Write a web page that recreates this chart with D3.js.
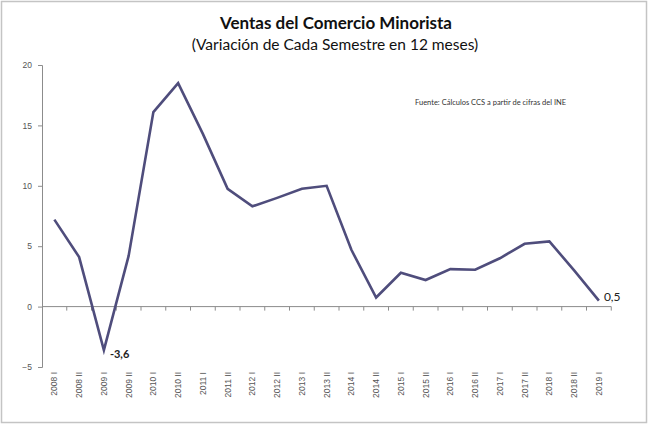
<!DOCTYPE html>
<html>
<head>
<meta charset="utf-8">
<script src="https://cdn.jsdelivr.net/npm/d3@7"></script>
<style>
  body { margin: 0; background: #fff; }
  svg { display: block; font-family: Lato, "Open Sans", sans-serif; }
</style>
</head>
<body>
<svg id="chart" width="650" height="425"></svg>
<script>
// Semesters (categories) and their 12-month variation
const periods = [
    '2008 I', '2008 II', '2009 I', '2009 II', '2010 I', '2010 II',
    '2011 I', '2011 II', '2012 I', '2012 II', '2013 I', '2013 II',
    '2014 I', '2014 II', '2015 I', '2015 II', '2016 I', '2016 II',
    '2017 I', '2017 II', '2018 I', '2018 II', '2019 I'
];
const variation = [
    7.2, 4.1, -3.6, 4.2, 16.1, 18.5,
    14.3, 9.75, 8.3, 9.0, 9.75, 10.0,
    4.7, 0.75, 2.8, 2.2, 3.1, 3.05,
    4.0, 5.2, 5.4, 3.0, 0.5
];
const yTicks = [-5, 0, 5, 10, 15, 20];
const labelled = { '2009 I': '-3,6', '2019 I': '0,5' };

const svg = d3.select('#chart');
const margin = { left: 42, top: 65, bottom: 58 };
const height = 425;
const axisFont = '"Liberation Sans", Arial, sans-serif';

// Frame
svg.append('rect')
    .attr('x', 1.5).attr('y', 1.5)
    .attr('width', 645).attr('height', 421)
    .attr('fill', '#fff')
    .attr('stroke', '#c4c4c4')
    .attr('stroke-width', 1.5);

// Titles
svg.append('text')
    .attr('x', 336).attr('y', 29)
    .attr('text-anchor', 'middle')
    .attr('font-size', '17px')
    .attr('font-weight', 'bold')
    .attr('fill', '#111')
    .text('Ventas del Comercio Minorista');

svg.append('text')
    .attr('x', 335).attr('y', 50)
    .attr('text-anchor', 'middle')
    .attr('font-size', '15.5px')
    .attr('fill', '#111')
    .text('(Variación de Cada Semestre en 12 meses)');

const x = d3.scaleBand()
    .domain(periods)
    .range([margin.left, margin.left + 23 * 24.75]);

const y = d3.scaleLinear()
    .domain([-5, 20])
    .range([height - margin.bottom, margin.top]);

// Y axis
const yAxis = svg.append('g')
    .attr('transform', `translate(${margin.left},0)`)
    .call(d3.axisLeft(y).tickValues(yTicks).tickSize(4).tickPadding(6));
yAxis.select('.domain').attr('stroke', '#8c8c8c');
yAxis.selectAll('.tick line').attr('stroke', '#8c8c8c');
yAxis.selectAll('.tick text')
    .attr('font-size', '8.5px')
    .attr('fill', '#555')
    .attr('font-family', axisFont);

// X axis line at zero, ticks on category boundaries
const boundaries = periods.slice(1).map(p => x(p)).concat([x.range()[1]]);
svg.append('line')
    .attr('x1', margin.left).attr('x2', x.range()[1])
    .attr('y1', y(0)).attr('y2', y(0))
    .attr('stroke', '#8c8c8c');
svg.append('g').selectAll('line')
    .data(boundaries)
    .enter()
    .append('line')
    .attr('x1', d => d).attr('x2', d => d)
    .attr('y1', y(0)).attr('y2', y(0) + 4)
    .attr('stroke', '#8c8c8c');

// Category labels at bottom, rotated
svg.append('g').selectAll('text')
    .data(periods)
    .enter()
    .append('text')
    .attr('transform', d => `translate(${x(d) + x.bandwidth() / 2 + 3},${y(-5) + 5}) rotate(-90)`)
    .attr('text-anchor', 'end')
    .attr('font-size', '8.5px')
    .attr('font-family', axisFont)
    .attr('fill', '#555')
    .text(d => d);

// Source note
svg.append('text')
    .attr('x', 415).attr('y', 105)
    .attr('font-size', '7.5px')
    .attr('fill', '#333')
    .text('Fuente: Cálculos CCS a partir de cifras del INE');

// Line
const line = d3.line()
    .x((d, i) => x(periods[i]) + x.bandwidth() / 2)
    .y(d => y(d));

svg.append('path')
    .datum(variation)
    .attr('d', line)
    .attr('fill', 'none')
    .attr('stroke', '#4f4d7c')
    .attr('stroke-width', 2.6)
    .attr('stroke-linejoin', 'miter');

// Data labels
const lbl = periods.map((p, i) => ({ p, v: variation[i] })).filter(d => labelled[d.p]);
svg.append('g').selectAll('text')
    .data(lbl)
    .enter()
    .append('text')
    .attr('x', d => x(d.p) + x.bandwidth() / 2 + (d.v < 0 ? 6 : 5))
    .attr('y', d => y(d.v) + (d.v < 0 ? 8 : 0))
    .attr('font-size', d => d.v < 0 ? '11px' : '12px')
    .attr('font-weight', d => d.v < 0 ? 'bold' : 'normal')
    .attr('fill', '#222')
    .text(d => labelled[d.p]);
</script>
</body>
</html>
